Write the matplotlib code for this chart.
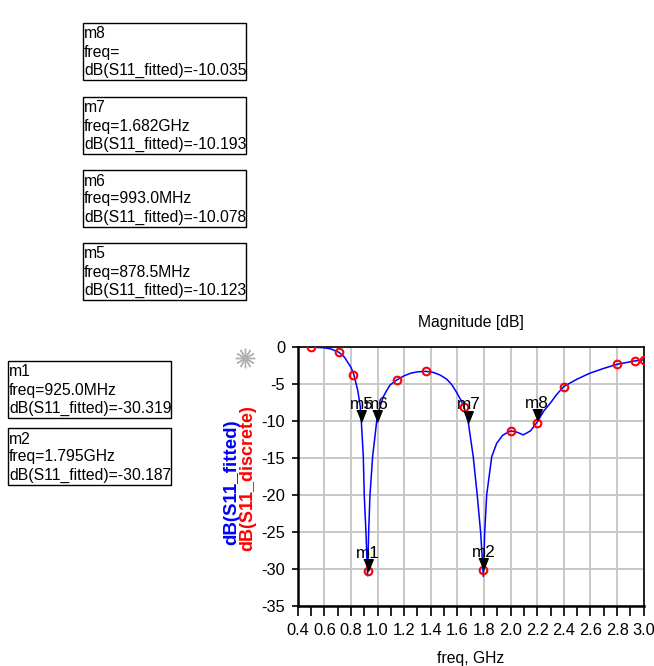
import numpy as np
import matplotlib
matplotlib.use("Agg")
import matplotlib.pyplot as plt
from matplotlib.patches import Rectangle
from matplotlib.lines import Line2D

plt.rcParams['font.family'] = ['Liberation Sans', 'DejaVu Sans']
plt.rcParams['axes.unicode_minus'] = False
FS = 11.3

# fitted S11 curve
fit_freq = [0.5, 0.55, 0.6, 0.65, 0.71, 0.75, 0.8, 0.821, 0.851, 0.87, 0.8785,
            0.893, 0.900, 0.913, 0.925, 0.933, 0.943, 0.963, 0.993, 1.006, 1.02,
            1.043, 1.07, 1.094, 1.144, 1.2, 1.25, 1.3, 1.362, 1.42, 1.47, 1.519,
            1.56, 1.594, 1.625, 1.65, 1.682, 1.719, 1.749, 1.775, 1.795, 1.805,
            1.82, 1.858, 1.895, 1.94, 2.0, 2.05, 2.095, 2.15, 2.2, 2.25, 2.296,
            2.35, 2.4, 2.5, 2.596, 2.7, 2.8, 2.93, 3.0]
fit_db = [0.0, -0.02, -0.07, -0.22, -0.68, -1.3, -2.7, -3.65, -5.8, -8.0, -10.12,
          -14.8, -20.0, -25.1, -30.9, -25.1, -20.0, -14.8, -10.08, -8.9, -8.0,
          -6.7, -5.8, -5.1, -4.42, -3.85, -3.5, -3.32, -3.25, -3.4, -3.75, -4.3,
          -5.1, -6.1, -7.1, -8.1, -10.19, -14.8, -20.0, -25.1, -31.0, -25.1,
          -20.0, -14.8, -13.0, -11.9, -11.3, -11.5, -11.85, -11.3, -10.1, -8.6, -7.6,
          -6.3, -5.3, -4.3, -3.5, -2.85, -2.3, -1.85, -1.7]

# discrete S11 samples
disc_freq = [0.5, 0.713, 0.818, 0.926, 1.144, 1.362, 1.65, 1.795, 2.0, 2.2, 2.4, 2.8, 2.932, 3.0]
disc_db = [0.0, -0.68, -3.70, -30.26, -4.42, -3.25, -8.12, -30.13, -11.32, -10.24, -5.32, -2.30, -1.80, -1.67]

# markers
mk_names = ['m1', 'm2', 'm5', 'm6', 'm7', 'm8']
mk_freq = [0.925, 1.795, 0.8785, 0.993, 1.682, 2.2]
mk_db = [-30.319, -30.187, -10.123, -10.078, -10.193, -10.035]

# marker readout boxes
box_names = ['m8', 'm7', 'm6', 'm5', 'm1', 'm2']
box_freq = ['freq=', 'freq=1.682GHz', 'freq=993.0MHz', 'freq=878.5MHz',
            'freq=925.0MHz', 'freq=1.795GHz']
box_val = ['dB(S11_fitted)=-10.035', 'dB(S11_fitted)=-10.193', 'dB(S11_fitted)=-10.078',
           'dB(S11_fitted)=-10.123', 'dB(S11_fitted)=-30.319', 'dB(S11_fitted)=-30.187']
box_left = [83, 83, 83, 83, 8, 8]
box_top = [23, 97, 170, 243, 361, 428]

W, H = 654, 666
fig = plt.figure(figsize=(W / 100, H / 100), dpi=100)
ax = fig.add_axes([297.7 / W, 1 - 606 / H, 346 / W, (606 - 347.3) / H])

ax.plot(fit_freq, fit_db, color='blue', lw=1.1, zorder=3)
ax.plot(disc_freq, disc_db, 'o', ms=5.5, mfc='none', mec='red', mew=1.5, zorder=4)

tri = [(-0.4, 1.0), (0.4, 1.0), (0.0, 0.0)]
ax.plot(mk_freq, mk_db, ls='none', marker=tri, ms=17, color='black', zorder=5)
for n, f, d in zip(mk_names, mk_freq, mk_db):
    ax.annotate(n, (f, d), xytext=(0, 9.5), textcoords='offset points',
                ha='center', va='baseline', fontsize=FS + 1, zorder=6)

ax.set_xlim(0.4, 3.0)
ax.set_ylim(-35, 0)
ax.set_xticks(np.arange(0.4, 3.01, 0.2))
ax.set_xticks(np.arange(0.5, 3.0, 0.2), minor=True)
ax.set_xticklabels(['%.1f' % v for v in np.arange(0.4, 3.01, 0.2)])
ax.set_yticks(np.arange(-35, 1, 5))
ax.tick_params(axis='x', which='both', direction='out', length=7, width=1.2,
               labelsize=FS + 0.5, pad=5)
ax.tick_params(axis='y', direction='out', length=4, width=1.2, labelsize=FS + 0.5, pad=5)
ax.grid(True, which='major', color='#c8c8c8', lw=1.4)
ax.set_axisbelow(True)
for s in ['left', 'bottom']:
    ax.spines[s].set_linewidth(1.8)
for s in ['top', 'right']:
    ax.spines[s].set_linewidth(1.2)

fig.text(470.7 / W, 1 - 323 / H, 'Magnitude [dB]', ha='center', va='center', fontsize=FS)
fig.text(470.7 / W, 1 - 659 / H, 'freq, GHz', ha='center', va='center', fontsize=FS)
fig.text(232 / W, 1 - 482 / H, 'dB(S11_fitted)', rotation=90, ha='center', va='center',
         color='blue', fontsize=13.5, weight='bold')
fig.text(248 / W, 1 - 478 / H, 'dB(S11_discrete)', rotation=90, ha='center', va='center',
         color='red', fontsize=13, weight='bold')

# little tuning icon
fig.add_artist(Line2D([245 / W], [1 - 358 / H], marker=(12, 2, 0), ms=14,
                      color='#b0b0b0', mew=1.0))

for i in range(len(box_names)):
    x0, y0 = box_left[i], box_top[i]
    fig.add_artist(Rectangle((x0 / W, 1 - (y0 + 57) / H), 163 / W, 57 / H,
                             transform=fig.transFigure, fill=False, ec='black', lw=1.0))
    for j, t in enumerate([box_names[i], box_freq[i], box_val[i]]):
        fig.text((x0 + 1) / W, 1 - (y0 + 11 + 18 * j) / H, t, ha='left', va='center',
                 fontsize=FS)

fig.savefig('out.png', dpi=100)
